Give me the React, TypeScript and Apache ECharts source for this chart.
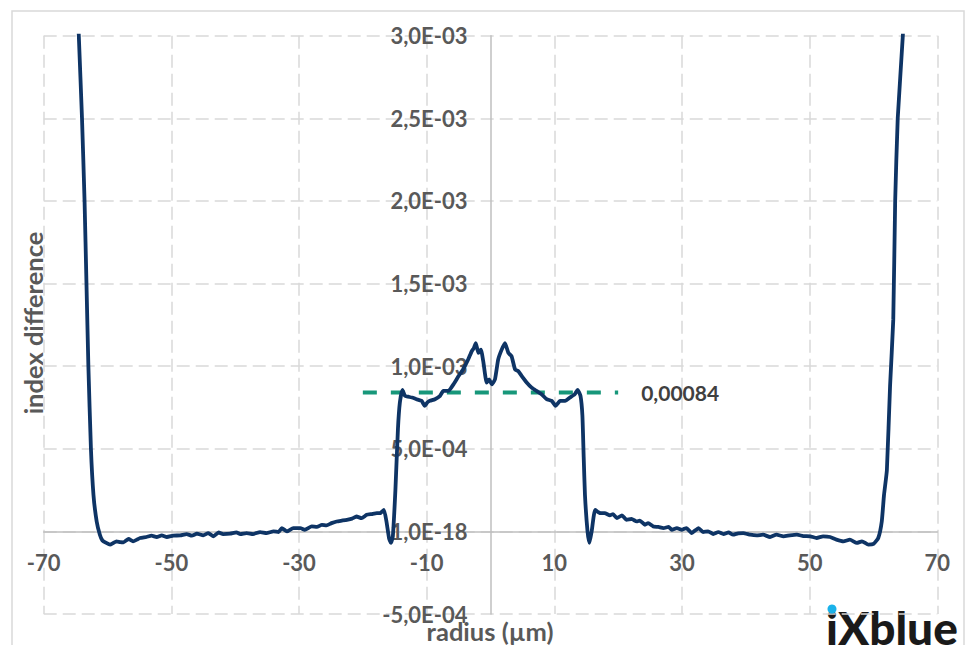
import React, { useEffect, useRef } from "react";
import * as echarts from "echarts";

// radius (µm)
const radius = [
  -65.0, -64.5, -64.0, -63.6, -63.3, -63.0, -62.6, -62.2, -61.7, -61.2, -60.8, -60.2, -59.6, -59.1, -58.6,
  -58.0, -57.5, -56.7, -56.0, -55.4, -54.9, -53.9, -53.1, -52.3, -51.5, -50.7, -49.7, -48.6, -47.6, -46.8,
  -46.0, -45.0, -44.2, -43.4, -42.6, -41.9, -40.8, -39.8, -39.2, -38.2, -37.2, -36.1, -35.1, -34.0, -33.2,
  -32.7, -31.9, -30.9, -29.8, -29.1, -28.0, -27.2, -26.4, -25.7, -24.9, -24.1, -23.3, -22.5, -21.7, -21.0,
  -20.2, -19.4, -18.6, -17.8, -17.3, -16.7, -16.3, -15.9, -15.6, -15.3, -14.9, -14.5, -14.2, -13.8, -13.4,
  -12.9, -12.3, -11.6, -10.8, -10.3, -9.9, -9.5, -8.7, -7.9, -7.4, -6.6, -5.8, -5.0, -4.3, -3.5,
  -2.95, -2.6, -2.3, -1.9, -1.5, -1.1, -0.6, -0.2, 0.2, 0.7, 1.2, 1.75, 2.27, 2.8, 3.3,
  3.85, 4.35, 4.9, 5.7, 6.45, 7.2, 8.0, 8.8, 9.6, 10.2, 10.9, 11.7, 12.45, 13.2, 13.65,
  14.1, 14.4, 14.6, 14.8, 15.2, 15.5, 15.85, 16.4, 17.2, 17.9, 18.7, 19.2, 19.8, 20.6, 21.3,
  22.1, 22.9, 23.4, 24.2, 24.7, 25.5, 26.3, 27.1, 27.9, 28.4, 29.2, 30.0, 30.7, 31.5, 32.6,
  33.3, 34.1, 34.9, 35.7, 36.5, 37.3, 38.0, 38.8, 39.6, 40.7, 41.7, 42.7, 43.8, 44.8, 45.9,
  46.9, 48.0, 49.0, 50.1, 51.1, 52.1, 53.2, 54.2, 55.3, 56.3, 57.4, 58.2, 59.2, 60.0, 60.75,
  61.3, 61.65, 62.1, 62.6, 63.1, 63.4, 63.8, 64.6, 65.0,
];

// index difference
const indexDiff = [
  0.0035, 0.003, 0.0025, 0.002, 0.0015, 0.001, 0.0005, 0.00022, 0.00006, -0.00002, -0.000055, -0.00007, -0.00008, -0.00007, -0.00006,
  -0.000065, -0.000066, -0.000046, -0.00006, -0.00005, -0.00004, -0.000034, -0.000026, -0.000034, -0.000024, -0.000034, -0.000026, -0.000024, -0.000016, -0.000026,
  -0.000014, -0.000024, -0.00001, -0.00003, -0.000006, -0.000016, -0.000014, -0.000006, -0.000016, -0.00001, -0.000016, -0.000004, -0.00001, 0.0, -0.000004,
  0.00002, 0.0, 0.00002, 0.00002, 0.00001, 0.00003, 0.000027, 0.00004, 0.000036, 0.00005, 0.00006, 0.000065, 0.00007, 0.000077, 0.00009,
  0.00008, 0.0001, 0.000105, 0.00011, 0.00011, 0.00013, 0.00006, -0.00004, -0.00007, -0.00003, 0.00025, 0.00062, 0.00078, 0.000857, 0.00082,
  0.000815, 0.00081, 0.0008, 0.00079, 0.00076, 0.00078, 0.00079, 0.0008, 0.00082, 0.00085, 0.00085, 0.00089, 0.00094, 0.00098, 0.00104,
  0.00109, 0.00111, 0.00114, 0.00108, 0.0011, 0.00102, 0.0009, 0.00092, 0.00089, 0.00092, 0.00104, 0.0011, 0.00114, 0.00108, 0.00106,
  0.00098, 0.00097, 0.00094, 0.0009, 0.00087, 0.00085, 0.00083, 0.0008, 0.00079, 0.00076, 0.00079, 0.00079, 0.00081, 0.00083, 0.000857,
  0.00082, 0.0007, 0.00045, 0.00022, 0.0, -0.00007, 0.0, 0.00013, 0.00011, 0.00011, 0.000097, 0.000105, 0.00008, 0.000097, 0.00007,
  0.000075, 0.00006, 0.000065, 0.00004, 0.00005, 0.00003, 0.000027, 0.00002, 0.000027, 0.00001, 0.00002, 0.00001, 0.00002, -0.00001, 0.00002,
  -0.000004, 0.0, -0.000016, -0.000004, -0.000016, -0.000006, -0.00002, -0.000012, -0.00001, -0.00002, -0.000024, -0.00002, -0.000034, -0.00002, -0.00003,
  -0.000024, -0.00002, -0.000028, -0.00003, -0.00004, -0.00003, -0.000034, -0.00005, -0.00006, -0.00005, -0.00007, -0.00006, -0.00008, -0.000076, -0.00004,
  0.00006, 0.00022, 0.00037, 0.00088, 0.00128, 0.002, 0.0025, 0.003, 0.0034,
];

const xTickValues = [-70, -50, -30, -10, 10, 30, 50, 70];
const yTickValues = [-0.0005, 0, 0.0005, 0.001, 0.0015, 0.002, 0.0025, 0.003];
const yTickLabels = ["-5,0E-04", "1,0E-18", "5,0E-04", "1,0E-03", "1,5E-03", "2,0E-03", "2,5E-03", "3,0E-03"];

const refRadius = [-20, 20];
const refValue = [0.00084, 0.00084];
const refLabel = "0,00084";

const LABEL_FONT = "Lato";

// plot area (pixels)
const GRID_LEFT = 43.7;
const GRID_RIGHT = 27.7;
const GRID_TOP = 35.7;
const GRID_BOTTOM = 31;
const CHART_W = 965;
const CHART_H = 645;

export default function App() {
  const ref = useRef<HTMLDivElement>(null);

  useEffect(() => {
    if (!ref.current) return;
    const chart = echarts.init(ref.current, null, { renderer: "svg" });

    const xMin = xTickValues[0];
    const xMax = xTickValues[xTickValues.length - 1];
    const yMin = yTickValues[0];
    const yMax = yTickValues[yTickValues.length - 1];
    const plotW = CHART_W - GRID_LEFT - GRID_RIGHT;
    const plotH = CHART_H - GRID_TOP - GRID_BOTTOM;
    // move the axes (with their labels) onto the zero lines
    const yAxisOffset = -((0 - xMin) / (xMax - xMin)) * plotW;
    const xAxisOffset = -((0 - yMin) / (yMax - yMin)) * plotH;

    const yLabel = (v: number) => {
      let best = 0;
      for (let i = 0; i < yTickValues.length; i++) {
        if (Math.abs(yTickValues[i] - v) < Math.abs(yTickValues[best] - v)) best = i;
      }
      return yTickLabels[best];
    };

    chart.setOption({
      animation: false,
      backgroundColor: "#ffffff",
      grid: {
        left: GRID_LEFT,
        right: GRID_RIGHT,
        top: GRID_TOP,
        bottom: GRID_BOTTOM,
        containLabel: false,
        outerBoundsMode: "none",
      },
      xAxis: {
        type: "value",
        position: "bottom",
        offset: xAxisOffset,
        min: xMin,
        max: xMax,
        interval: 20,
        axisLine: { show: true, onZero: false, lineStyle: { color: "#bfbfbf", width: 1.5 } },
        axisTick: { show: false },
        axisLabel: {
          margin: 20,
          color: "#595959",
          fontFamily: LABEL_FONT,
          fontWeight: "bold",
          fontSize: 22,
          hideOverlap: false,
        },
        splitLine: { show: true, lineStyle: { color: "#d9d9d9", width: 1.5, type: [13, 6] } },
      },
      yAxis: {
        type: "value",
        position: "left",
        offset: yAxisOffset,
        min: yMin,
        max: yMax,
        interval: 0.0005,
        axisLine: { show: true, onZero: false, lineStyle: { color: "#bfbfbf", width: 1.5 } },
        axisTick: { show: false },
        axisLabel: {
          margin: 23,
          color: "#595959",
          fontFamily: LABEL_FONT,
          fontWeight: "bold",
          fontSize: 22,
          formatter: yLabel,
          hideOverlap: false,
        },
        splitLine: { show: true, lineStyle: { color: "#d9d9d9", width: 1.5, type: [13, 6] } },
      },
      series: [
        {
          type: "line",
          data: refRadius.map((r, i) => [r, refValue[i]]),
          symbol: "none",
          z: 2,
          lineStyle: { color: "#17977a", width: 4, type: [14, 14], cap: "butt" },
          endLabel: {
            show: true,
            formatter: refLabel,
            distance: 23,
            color: "#404040",
            fontFamily: LABEL_FONT,
            fontWeight: "bold",
            fontSize: 21,
          },
        },
        {
          type: "line",
          data: radius.map((r, i) => [r, indexDiff[i]]),
          symbol: "none",
          smooth: 0.15,
          clip: true,
          z: 3,
          lineStyle: { color: "#0e3465", width: 3.8, join: "round" },
        },
      ],
      graphic: [
        {
          type: "rect",
          silent: true,
          z: -10,
          shape: { x: 12, y: 11, width: 952, height: 660 },
          style: { fill: "none", stroke: "#d9d9d9", lineWidth: 1.5 },
        },
        {
          type: "text",
          x: 33,
          y: 323,
          rotation: Math.PI / 2,
          style: {
            text: "index difference",
            fontFamily: LABEL_FONT,
            fontWeight: "bold",
            fontSize: 25.5,
            fill: "#595959",
            align: "center",
            verticalAlign: "middle",
          },
        },
        {
          type: "text",
          x: 490,
          y: 631,
          style: {
            text: "radius (µm)",
            fontFamily: LABEL_FONT,
            fontWeight: "bold",
            fontSize: 25.5,
            fill: "#595959",
            align: "center",
            verticalAlign: "middle",
          },
        },
        {
          type: "text",
          x: 826,
          y: 627,
          style: {
            text: "iXblue",
            fontFamily: LABEL_FONT,
            fontWeight: 900,
            fontSize: 46,
            fill: "#1a1a1a",
            align: "left",
            verticalAlign: "middle",
          },
        },
        {
          type: "circle",
          shape: { cx: 832, cy: 609, r: 4.5 },
          style: { fill: "#1ab2ea" },
          z: 10,
        },
      ],
    });

    return () => chart.dispose();
  }, []);

  return (
    <div
      ref={ref}
      style={{ position: "absolute", left: 0, top: 0, width: CHART_W, height: CHART_H }}
    />
  );
}
